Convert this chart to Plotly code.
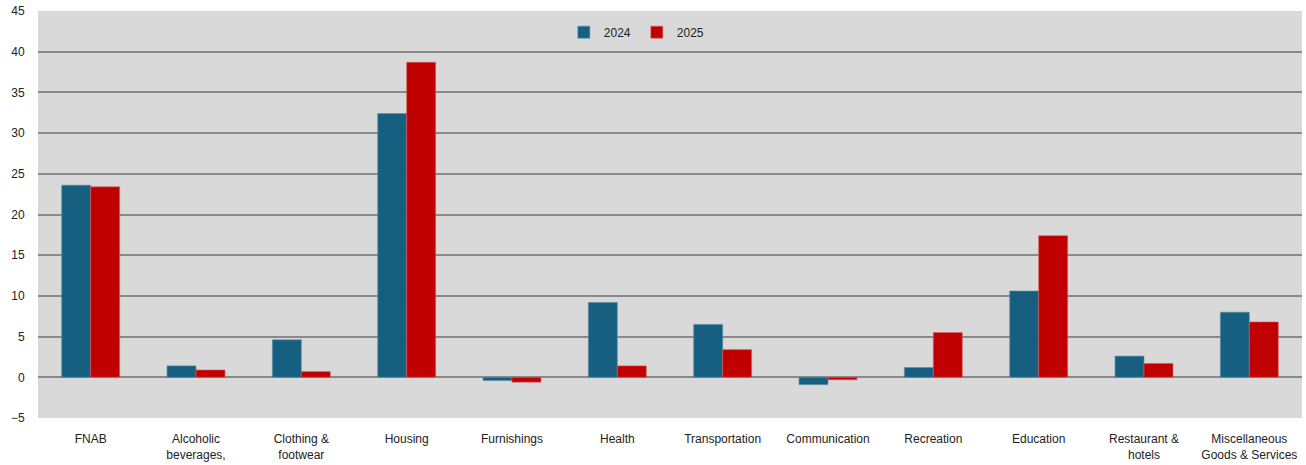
import plotly.graph_objects as go

categories = [
    "FNAB", "Alcoholic<br>beverages,", "Clothing &<br>footwear", "Housing",
    "Furnishings", "Health", "Transportation", "Communication",
    "Recreation", "Education", "Restaurant &<br>hotels",
    "Miscellaneous<br>Goods & Services",
]
values_2024 = [23.6, 1.4, 4.6, 32.4, -0.4, 9.2, 6.5, -0.9, 1.2, 10.6, 2.6, 8.0]
values_2025 = [23.4, 0.9, 0.7, 38.7, -0.6, 1.4, 3.4, -0.3, 5.5, 17.4, 1.7, 6.8]
y_ticks = [-5, 0, 5, 10, 15, 20, 25, 30, 35, 40, 45]

color_2024 = "#175f80"
color_2025 = "#c00000"

fig = go.Figure()
fig.add_trace(go.Bar(
    x=categories, y=values_2024, name="2024",
    marker=dict(color=color_2024, line=dict(color="#5b8fa8", width=0.6)),
))
fig.add_trace(go.Bar(
    x=categories, y=values_2025, name="2025",
    marker=dict(color=color_2025, line=dict(color="#d86060", width=0.6)),
))

fig.update_layout(
    width=1306, height=465,
    margin=dict(l=38, r=4, t=11, b=47),
    paper_bgcolor="white",
    plot_bgcolor="#d9d9d9",
    barmode="group",
    bargap=0.45,
    bargroupgap=0,
    font=dict(family="Liberation Sans, Arial, sans-serif", size=12, color="#222222"),
    legend=dict(
        orientation="h", x=0.416, y=0.948, xanchor="left", yanchor="middle",
        bgcolor="rgba(0,0,0,0)", font=dict(size=12),
        itemwidth=30, traceorder="normal",
        entrywidth=28, entrywidthmode="pixels",
    ),
    xaxis=dict(
        showgrid=False, showline=False, zeroline=False,
        ticks="outside", ticklen=10, tickcolor="rgba(0,0,0,0)",
        tickfont=dict(size=12),
    ),
    yaxis=dict(
        range=[-5, 45], tickvals=y_ticks,
        showgrid=True, gridcolor="#8a8a8a", gridwidth=1.5,
        zeroline=True, zerolinecolor="#8a8a8a", zerolinewidth=1.5,
        showline=False,
        ticks="outside", ticklen=10, tickcolor="rgba(0,0,0,0)",
        tickfont=dict(size=12),
    ),
)

fig.write_html("out.html")
